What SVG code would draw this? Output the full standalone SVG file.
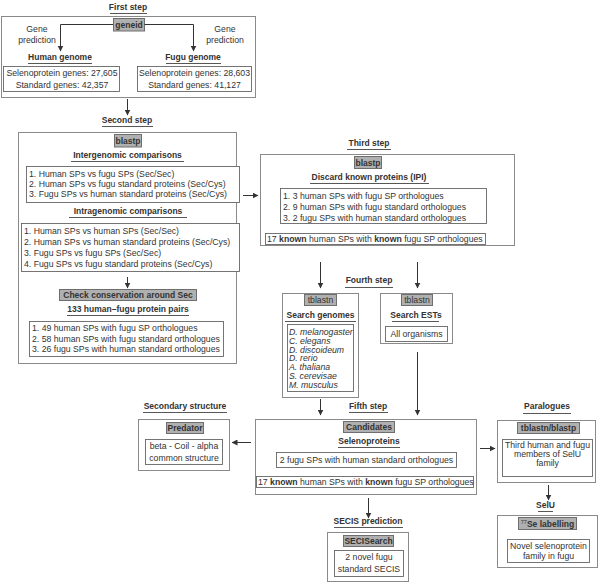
<svg xmlns="http://www.w3.org/2000/svg" width="600" height="583" viewBox="0 0 600 583">
<style>
text{font-family:"Liberation Sans",Arial,sans-serif;font-size:8.7px;fill:#333}
.t{font-weight:bold;font-size:8.5px;text-anchor:middle}
.c{text-anchor:middle}
.i{font-style:italic}
.ob{fill:#fff;stroke:#8a8a8a;stroke-width:1}
.ib{fill:#fff;stroke:#666;stroke-width:0.9}
.gb{fill:#b0b0b0;stroke:#6e6e6e;stroke-width:1}
.ul{stroke:#444;stroke-width:0.9}
.cn{fill:none;stroke:#333;stroke-width:1}
</style>
<defs>
<marker id="ah" viewBox="0 0 6 6" refX="5.5" refY="3" markerWidth="6" markerHeight="6" markerUnits="userSpaceOnUse" orient="auto">
<path d="M0,0 L6,3 L0,6 Z" fill="#333"/>
</marker>
</defs>
<rect width="600" height="583" fill="#fff"/>

<g id="first-step">
<text class="t" x="128" y="10">First step</text>
<line class="ul" x1="110" y1="13.5" x2="147" y2="13.5"/>
<rect class="ob" x="1.5" y="16.5" width="254" height="81"/>
<rect class="gb" x="113.5" y="18.5" width="31" height="12.5"/>
<text class="t" x="129" y="28">geneid</text>
<text class="c" x="37" y="32">Gene</text>
<text class="c" x="37" y="43">prediction</text>
<text class="c" x="225" y="32">Gene</text>
<text class="c" x="225" y="43">prediction</text>
<text class="t" x="60" y="60">Human genome</text>
<line class="ul" x1="28" y1="63.5" x2="92" y2="63.5"/>
<text class="t" x="193" y="60">Fugu genome</text>
<line class="ul" x1="166" y1="63.5" x2="221" y2="63.5"/>
<rect class="ib" x="3.5" y="66.5" width="116" height="25"/>
<text class="c" x="62" y="76">Selenoprotein genes: 27,605</text>
<text class="c" x="62" y="88">Standard genes: 42,357</text>
<rect class="ib" x="137.5" y="66.5" width="114" height="25"/>
<text class="c" x="194.5" y="76">Selenoprotein genes: 28,603</text>
<text class="c" x="194.5" y="88">Standard genes: 41,127</text>
</g>

<g id="second-step">
<text class="t" x="127" y="123">Second step</text>
<line class="ul" x1="102" y1="126.5" x2="153" y2="126.5"/>
<rect class="ob" x="18.5" y="132.5" width="218" height="231"/>
<rect class="gb" x="114.5" y="134.5" width="27" height="12.5"/>
<text class="t" x="128" y="144">blastp</text>
<text class="t" x="127.5" y="158">Intergenomic comparisons</text>
<line class="ul" x1="71" y1="161.5" x2="184" y2="161.5"/>
<rect class="ib" x="26.5" y="166.5" width="213" height="36"/>
<text x="29" y="177">1. Human SPs vs fugu SPs (Sec/Sec)</text>
<text x="29" y="187">2. Human SPs vs fugu standard proteins (Sec/Cys)</text>
<text x="29" y="197">3. Fugu SPs vs human standard proteins (Sec/Cys)</text>
<text class="t" x="128" y="214">Intragenomic comparisons</text>
<line class="ul" x1="69" y1="217.5" x2="187" y2="217.5"/>
<rect class="ib" x="21.5" y="223.5" width="218" height="48"/>
<text x="24" y="234">1. Human SPs vs human SPs (Sec/Sec)</text>
<text x="24" y="245">2. Human SPs vs human standard proteins (Sec/Cys)</text>
<text x="24" y="256">3. Fugu SPs vs fugu SPs (Sec/Sec)</text>
<text x="24" y="267">4. Fugu SPs vs fugu standard proteins (Sec/Cys)</text>
<rect class="gb" x="59.5" y="289.5" width="137" height="11"/>
<text class="t" x="128" y="298">Check conservation around Sec</text>
<text class="t" x="128" y="312">133 human–fugu protein pairs</text>
<line class="ul" x1="67" y1="315.5" x2="189" y2="315.5"/>
<rect class="ib" x="29.5" y="321.5" width="194" height="35"/>
<text x="32" y="331">1. 49 human SPs with fugu SP orthologues</text>
<text x="32" y="342">2. 58 human SPs with fugu standard orthologues</text>
<text x="32" y="352">3. 26 fugu SPs with human standard orthologues</text>
</g>

<g id="third-step">
<text class="t" x="369" y="146">Third step</text>
<line class="ul" x1="347" y1="149.5" x2="391" y2="149.5"/>
<rect class="ob" x="260.5" y="154.5" width="254" height="91"/>
<rect class="gb" x="354.5" y="156.5" width="27" height="12"/>
<text class="t" x="368" y="165.5">blastp</text>
<text class="t" x="369" y="180">Discard known proteins (IPI)</text>
<line class="ul" x1="310" y1="183.5" x2="429" y2="183.5"/>
<rect class="ib" x="280.5" y="188.5" width="206" height="35"/>
<text x="283" y="199">1. 3 human SPs with fugu SP orthologues</text>
<text x="283" y="210">2. 9 human SPs with fugu standard orthologues</text>
<text x="283" y="221">3. 2 fugu SPs with human standard orthologues</text>
<rect class="ib" x="265.5" y="233.5" width="220" height="11"/>
<text x="267" y="242">17 <tspan font-weight="bold">known</tspan> human SPs with <tspan font-weight="bold">known</tspan> fugu SP orthologues</text>
</g>

<g id="fourth-step-title">
<text class="t" x="369" y="283">Fourth step</text>
<line class="ul" x1="345" y1="287.5" x2="393" y2="287.5"/>
</g>

<g id="search-genomes">
<rect class="ob" x="282.5" y="293.5" width="76" height="104"/>
<rect class="gb" x="304.5" y="294.5" width="32" height="11"/>
<text class="c" x="320.5" y="303">tblastn</text>
<text class="t" x="320.5" y="318">Search genomes</text>
<line class="ul" x1="285" y1="321.5" x2="356" y2="321.5"/>
<rect class="ib" x="287.5" y="324.5" width="66" height="67"/>
<text class="i" x="289" y="335">D. melanogaster</text>
<text class="i" x="289" y="344">C. elegans</text>
<text class="i" x="289" y="352.5">D. discoideum</text>
<text class="i" x="289" y="361">D. rerio</text>
<text class="i" x="289" y="370">A. thaliana</text>
<text class="i" x="289" y="379">S. cerevisae</text>
<text class="i" x="289" y="388">M. musculus</text>
</g>

<g id="search-ests">
<rect class="ob" x="380.5" y="293.5" width="72" height="50"/>
<rect class="gb" x="401.5" y="294.5" width="31" height="11"/>
<text class="c" x="417" y="303">tblastn</text>
<text class="t" x="416" y="318">Search ESTs</text>
<line class="ul" x1="392" y1="321.5" x2="439" y2="321.5"/>
<rect class="ib" x="385.5" y="326.5" width="62" height="15"/>
<text class="c" x="416.5" y="337">All organisms</text>
</g>

<g id="fifth-step">
<text class="t" x="368" y="409">Fifth step</text>
<line class="ul" x1="349" y1="412.5" x2="388" y2="412.5"/>
<rect class="ob" x="255.5" y="419.5" width="221" height="75"/>
<rect class="gb" x="343.5" y="421.5" width="51" height="11"/>
<text class="t" x="369" y="430">Candidates</text>
<text class="t" x="369" y="444">Selenoproteins</text>
<line class="ul" x1="338" y1="447.5" x2="400" y2="447.5"/>
<rect class="ib" x="276.5" y="452.5" width="180" height="15"/>
<text class="c" x="366.5" y="463">2 fugu SPs with human standard orthologues</text>
<rect class="ib" x="256.5" y="476.5" width="217" height="11"/>
<text x="258" y="485">17 <tspan font-weight="bold">known</tspan> human SPs with <tspan font-weight="bold">known</tspan> fugu SP orthologues</text>
</g>

<g id="secondary-structure">
<text class="t" x="185" y="409">Secondary structure</text>
<line class="ul" x1="143" y1="412.5" x2="227" y2="412.5"/>
<rect class="ob" x="138.5" y="419.5" width="91" height="51"/>
<rect class="gb" x="166.5" y="422.5" width="37" height="11"/>
<text class="t" x="185" y="431">Predator</text>
<rect class="ib" x="145.5" y="439.5" width="77" height="25"/>
<text class="c" x="184" y="449">beta - Coil - alpha</text>
<text class="c" x="184" y="461">common structure</text>
</g>

<g id="paralogues">
<text class="t" x="547" y="409">Paralogues</text>
<line class="ul" x1="523" y1="413.5" x2="571" y2="413.5"/>
<rect class="ob" x="497.5" y="420.5" width="98" height="62"/>
<rect class="gb" x="517.5" y="422.5" width="62" height="11"/>
<text class="t" x="548.5" y="431">tblastn/blastp</text>
<rect class="ib" x="502.5" y="439.5" width="90" height="37"/>
<text class="c" x="547.5" y="448">Third human and fugu</text>
<text class="c" x="547.5" y="457">members of SelU</text>
<text class="c" x="547.5" y="466">family</text>
</g>

<g id="selu">
<text class="t" x="545.5" y="508">SelU</text>
<line class="ul" x1="538" y1="511.5" x2="553" y2="511.5"/>
<rect class="ob" x="497.5" y="515.5" width="100" height="52"/>
<rect class="gb" x="518.5" y="517.5" width="58" height="12"/>
<text class="t" x="547.5" y="527"><tspan font-size="5.5" font-weight="normal" dy="-3">77</tspan><tspan dy="3">Se labelling</tspan></text>
<rect class="ib" x="507.5" y="539.5" width="82" height="23"/>
<text class="c" x="548.5" y="549">Novel selenoprotein</text>
<text class="c" x="548.5" y="559">family in fugu</text>
</g>

<g id="secis">
<text class="t" x="368" y="524">SECIS prediction</text>
<line class="ul" x1="334" y1="527.5" x2="403" y2="527.5"/>
<rect class="ob" x="327.5" y="532.5" width="81" height="49"/>
<rect class="gb" x="343.5" y="535.5" width="50" height="11"/>
<text class="t" x="368.5" y="544">SECISearch</text>
<rect class="ib" x="334.5" y="550.5" width="69" height="26"/>
<text class="c" x="369" y="560">2 novel fugu</text>
<text class="c" x="369" y="572">standard SECIS</text>
</g>

<g id="connectors">
<path class="cn" d="M113,24.5 H60.5 V51" marker-end="url(#ah)"/>
<path class="cn" d="M144.5,24.5 H193.5 V51" marker-end="url(#ah)"/>
<path class="cn" d="M127.5,99 V115" marker-end="url(#ah)"/>
<path class="cn" d="M127.5,277 V288" marker-end="url(#ah)"/>
<path class="cn" d="M243,195.5 H258" marker-end="url(#ah)"/>
<path class="cn" d="M320.5,262 V288" marker-end="url(#ah)"/>
<path class="cn" d="M417.5,262 V288" marker-end="url(#ah)"/>
<path class="cn" d="M320.5,399 V415" marker-end="url(#ah)"/>
<path class="cn" d="M417.5,352 V415" marker-end="url(#ah)"/>
<path class="cn" d="M251,442.5 H232" marker-end="url(#ah)"/>
<path class="cn" d="M480,448.5 H495" marker-end="url(#ah)"/>
<path class="cn" d="M548.5,485 V500" marker-end="url(#ah)"/>
<path class="cn" d="M368.5,498 V518" marker-end="url(#ah)"/>
</g>
</svg>
